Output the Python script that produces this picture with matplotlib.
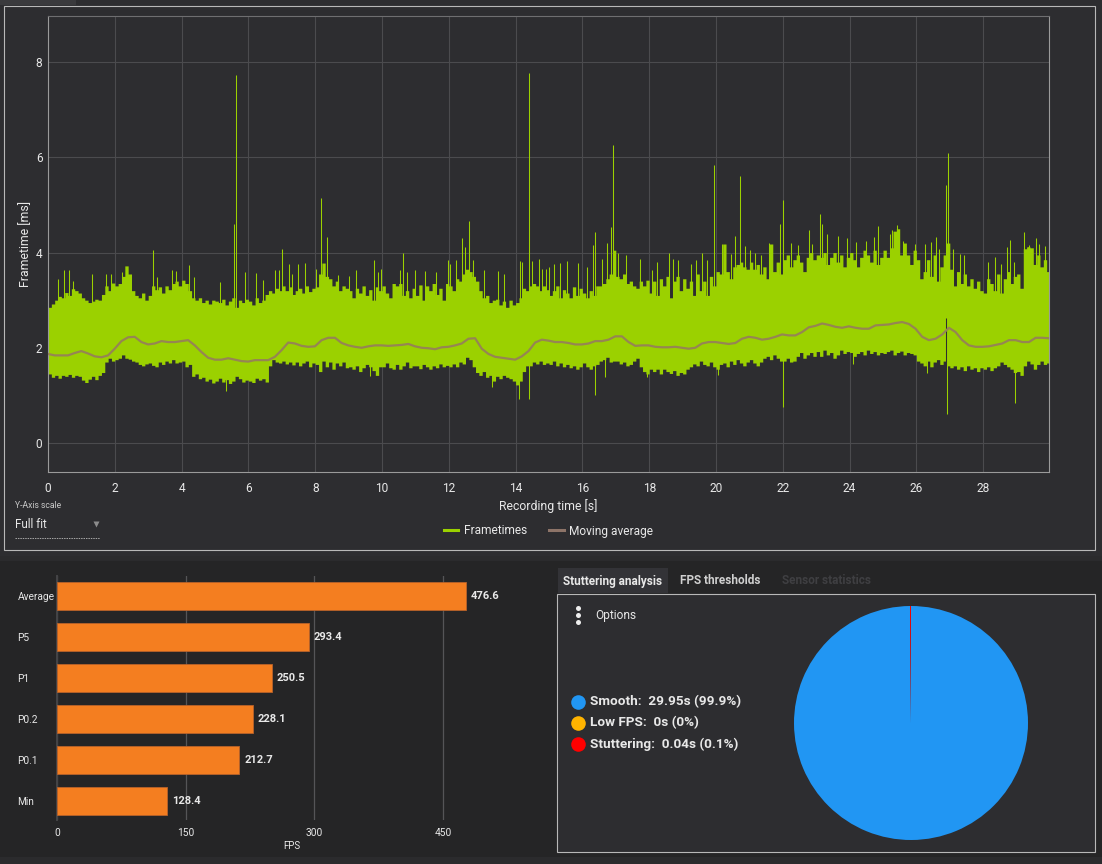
import numpy as np
import matplotlib
matplotlib.use("Agg")
import matplotlib.pyplot as plt
from matplotlib.lines import Line2D
from matplotlib.patches import Rectangle

plt.rcParams['font.family'] = ['Roboto', 'DejaVu Sans']

# frametime band, upper and lower edge, one value per 0.1 s
upper_ms = [
    2.85, 2.92, 3.0, 3.08, 3.05, 3.16, 3.1, 3.24, 3.2, 3.15,
    3.05, 3.0, 2.95, 2.98, 3.02, 3.0, 3.12, 3.3, 3.2, 3.36,
    3.3, 3.35, 3.5, 3.72, 3.55, 3.2, 3.1, 3.05, 3.15, 3.0,
    3.1, 3.3, 3.22, 3.28, 3.15, 3.3, 3.22, 3.35, 3.4, 3.3,
    3.42, 3.35, 3.2, 3.05, 3.0, 3.05, 2.95, 3.0, 2.92, 3.0,
    2.98, 2.95, 3.02, 2.9, 2.98, 3.05, 2.85, 3.0, 2.95, 3.02,
    2.98, 2.9, 3.05, 2.95, 3.0, 3.12, 3.2, 3.15, 3.25, 3.2,
    3.3, 3.2, 3.28, 3.12, 3.2, 3.25, 3.15, 3.3, 3.18, 3.25,
    3.28, 3.55, 3.78, 3.5, 3.45, 3.3, 3.4, 3.2, 3.3, 3.25,
    3.2, 3.05, 3.25, 3.15, 3.3, 3.1, 3.22, 3.0, 3.28, 3.2,
    3.3, 3.15, 3.05, 3.35, 3.3, 3.35, 3.1, 3.2, 3.05, 3.25,
    3.1, 3.32, 3.0, 3.3, 3.2, 3.35, 3.12, 3.25, 3.0, 3.35,
    3.3, 3.2, 3.45, 3.4, 3.55, 3.65, 3.6, 3.5, 3.4, 3.2,
    3.05, 3.1, 2.95, 3.0, 3.02, 2.9, 2.98, 2.85, 3.0, 2.9,
    2.95, 3.05, 3.25, 3.2, 3.3, 3.35, 3.3, 3.2, 3.3, 3.22,
    3.1, 3.2, 3.3, 3.05, 3.22, 3.15, 3.05, 3.28, 3.1, 3.25,
    3.15, 3.05, 3.2, 3.1, 3.3, 3.3, 3.35, 3.45, 3.55, 4.05,
    3.5, 3.45, 3.55, 3.35, 3.4, 3.3, 3.25, 3.4, 3.3, 3.42,
    3.15, 3.4, 3.1, 3.45, 3.3, 3.5, 3.05, 3.4, 3.5, 3.2,
    3.45, 3.25, 3.4, 3.1, 3.55, 3.2, 3.4, 3.1, 3.5, 3.3,
    3.6, 3.55, 4.18, 3.6, 3.45, 3.7, 3.75, 3.8, 3.7, 3.65,
    3.8, 3.65, 3.75, 3.55, 3.7, 3.45, 4.18, 3.6, 3.8, 3.55,
    3.85, 3.95, 3.7, 3.85, 3.95, 3.8, 3.6, 3.9, 4.0, 3.85,
    3.95, 3.9, 4.0, 3.75, 3.9, 4.0, 3.8, 3.95, 3.7, 3.9,
    4.0, 3.85, 3.7, 3.9, 4.05, 3.95, 3.8, 4.05, 3.75, 3.9,
    4.05, 3.9, 4.1, 4.45, 4.5, 3.95, 4.2, 3.95, 3.75, 4.05,
    3.85, 3.45, 3.6, 3.85, 3.5, 3.95, 3.4, 3.7, 3.95, 4.2,
    3.65, 3.3, 3.6, 3.35, 3.55, 3.3, 3.45, 3.25, 3.4, 3.2,
    3.15, 3.45, 3.35, 3.2, 3.55, 3.15, 3.45, 3.6, 3.35, 3.5,
    3.55, 3.25, 4.08, 4.12, 4.1, 3.75, 3.95, 3.7, 3.85, 3.6,
]
lower_ms = [
    1.45, 1.38, 1.42, 1.36, 1.42, 1.4, 1.44, 1.38, 1.42, 1.4,
    1.32, 1.27, 1.34, 1.4, 1.33, 1.42, 1.48, 1.7, 1.78, 1.72,
    1.75, 1.78, 1.85, 1.78, 1.76, 1.72, 1.7, 1.65, 1.62, 1.66,
    1.68, 1.63, 1.6, 1.7, 1.65, 1.72, 1.68, 1.75, 1.68, 1.7,
    1.72, 1.6, 1.65, 1.4, 1.45, 1.35, 1.38, 1.3, 1.34, 1.26,
    1.3, 1.36, 1.28, 1.33, 1.25, 1.3, 1.4, 1.35, 1.28, 1.32,
    1.3, 1.27, 1.36, 1.32, 1.35, 1.28, 1.62, 1.75, 1.7, 1.68,
    1.72, 1.66, 1.7, 1.64, 1.7, 1.62, 1.68, 1.72, 1.6, 1.68,
    1.65, 1.5, 1.72, 1.6, 1.7, 1.55, 1.68, 1.62, 1.7, 1.58,
    1.6, 1.55, 1.62, 1.5, 1.58, 1.65, 1.6, 1.52, 1.42, 1.6,
    1.6, 1.68, 1.58, 1.55, 1.65, 1.55, 1.62, 1.7, 1.58, 1.62,
    1.62, 1.56, 1.65, 1.6, 1.55, 1.62, 1.58, 1.66, 1.6, 1.63,
    1.6, 1.66, 1.6, 1.7, 1.66, 1.8, 1.75, 1.6, 1.48, 1.42,
    1.5, 1.38, 1.42, 1.3, 1.4, 1.35, 1.42, 1.38, 1.35, 1.3,
    1.22, 1.3, 1.5, 1.62, 1.62, 1.7, 1.66, 1.72, 1.65, 1.68,
    1.65, 1.72, 1.62, 1.68, 1.6, 1.65, 1.58, 1.62, 1.55, 1.6,
    1.68, 1.6, 1.55, 1.62, 1.65, 1.72, 1.75, 1.8, 1.7, 1.72,
    1.72, 1.66, 1.7, 1.62, 1.65, 1.72, 1.78, 1.6, 1.5, 1.45,
    1.55, 1.5, 1.55, 1.45, 1.55, 1.5, 1.46, 1.52, 1.42, 1.48,
    1.45, 1.55, 1.6, 1.66, 1.62, 1.72, 1.65, 1.62, 1.7, 1.6,
    1.55, 1.65, 1.68, 1.6, 1.72, 1.65, 1.75, 1.68, 1.62, 1.7,
    1.75, 1.68, 1.62, 1.7, 1.78, 1.82, 1.75, 1.85, 1.78, 1.72,
    1.72, 1.78, 1.7, 1.72, 1.82, 1.9, 1.78, 1.85, 1.9, 1.82,
    1.92, 1.82, 1.95, 1.85, 1.9, 1.78, 1.85, 1.95, 1.88, 1.92,
    1.9, 1.82, 1.88, 1.92, 1.85, 1.95, 1.88, 1.92, 1.85, 1.9,
    1.88, 1.92, 1.95, 1.85, 1.9, 1.93, 1.85, 1.9, 1.88, 1.85,
    1.72, 1.68, 1.62, 1.72, 1.6, 1.7, 1.75, 1.65, 1.72, 1.62,
    1.58, 1.62, 1.55, 1.6, 1.52, 1.62, 1.55, 1.58, 1.5, 1.58,
    1.55, 1.6, 1.52, 1.58, 1.62, 1.7, 1.65, 1.6, 1.55, 1.48,
    1.5, 1.42, 1.62, 1.72, 1.66, 1.55, 1.65, 1.72, 1.65, 1.68,
]

# single frames that stick out above the band
spike_up_t = [
    0.47, 0.63, 0.3, 0.75, 1.32, 1.73, 1.9, 2.23, 3.15, 3.25, 3.7, 3.83, 4.23, 4.37, 5.15, 5.57, 5.63,
    5.9, 6.23, 6.43, 6.8, 6.93, 7.02, 7.22, 7.3, 7.49, 7.69, 8.02, 8.17, 8.36, 8.67, 9.02, 9.21, 9.76,
    9.88, 9.98, 10.53, 10.63, 10.74, 10.98, 11.28, 11.62, 11.97, 12.05, 12.22, 12.39, 12.48, 12.6,
    12.73, 13.05, 13.46, 13.64, 14.12, 14.2, 14.39, 14.49, 14.69, 14.8, 14.9, 15.01, 15.15, 15.33,
    15.55, 15.88, 16.13, 16.33, 16.39, 16.6, 16.75, 16.87, 16.93, 17.07, 17.3, 17.72, 18.09, 18.22,
    18.6, 18.72, 18.85, 19.24, 19.39, 19.58, 19.73, 19.94, 20.19, 20.46, 20.58, 20.72, 20.87, 21.03,
    21.17, 21.35, 21.6, 21.92, 22.0, 22.25, 22.45, 22.77, 22.87, 23.1, 23.16, 23.33, 23.66, 23.91,
    24.18, 24.49, 24.74, 24.84, 25.2, 25.28, 25.42, 25.6, 25.95, 26.25, 26.45, 26.6, 26.67, 26.9,
    26.94, 27.09, 27.31, 27.42, 28.14, 28.34, 28.54, 28.71, 28.79, 28.91, 29.21, 29.33, 29.38, 29.58,
    29.66, 29.86,
]
spike_up_ms = [
    3.63, 3.64, 3.45, 3.4, 3.55, 3.56, 3.56, 3.6, 4.05, 3.49, 3.63, 3.62, 3.73, 3.49, 3.38, 4.6, 7.72,
    3.6, 3.57, 3.42, 3.64, 3.63, 4.07, 3.77, 3.56, 3.77, 3.78, 3.66, 5.15, 4.32, 3.52, 3.5, 3.63, 3.84,
    3.6, 3.66, 3.63, 4.0, 3.6, 3.64, 3.62, 3.6, 3.85, 3.77, 3.84, 4.3, 4.12, 4.66,
    3.84, 3.63, 3.62, 3.56, 3.83, 3.8, 7.77, 3.83, 3.87, 3.66, 3.66, 3.7, 3.77, 3.78,
    3.83, 3.78, 3.7, 4.15, 4.43, 3.87, 4.2, 4.54, 6.25, 4.0, 3.95, 3.87, 3.63, 3.8,
    4.0, 3.87, 3.84, 3.77, 3.84, 4.0, 3.84, 5.83, 4.19, 3.98, 4.34, 5.6, 4.13, 4.05,
    4.0, 3.95, 4.2, 4.6, 5.1, 4.2, 4.15, 4.47, 4.18, 4.8, 4.6, 4.39, 4.35, 4.3,
    4.22, 4.25, 4.33, 4.55, 4.39, 4.47, 4.57, 4.25, 4.19, 4.18, 4.22, 4.33, 4.08, 5.42,
    6.1, 4.08, 3.98, 3.95, 3.8, 3.91, 3.77, 4.12, 4.27, 3.8, 4.43, 4.12, 4.15, 4.3,
    4.19, 4.13,
]
# and the ones that drop below it
spike_down_t = [5.34, 9.64, 13.29, 14.09, 14.39, 16.39, 16.69, 17.92, 20.06, 22.0, 24.11, 26.32, 26.93, 28.95]
spike_down_ms = [1.09, 1.41, 1.18, 0.92, 0.92, 1.0, 1.39, 1.39, 1.42, 0.75, 1.65, 1.46, 0.6, 0.83]

# one value every 0.2 s
moving_avg_ms = [
    1.87, 1.84, 1.84, 1.84, 1.89, 1.93, 1.88, 1.82, 1.80, 1.84,
    1.98, 2.14, 2.22, 2.23, 2.12, 2.07, 2.09, 2.14, 2.12, 2.12,
    2.14, 2.16, 2.05, 1.91, 1.79, 1.75, 1.75, 1.78, 1.75, 1.72,
    1.71, 1.74, 1.74, 1.74, 1.81, 1.95, 2.11, 2.09, 2.04, 2.02,
    2.03, 2.16, 2.21, 2.21, 2.10, 2.05, 2.02, 2.0, 2.03, 2.05,
    2.05, 2.04, 2.05, 2.06, 2.08, 2.03, 2.0, 1.99, 1.97, 2.01,
    2.02, 2.05, 2.09, 2.19, 2.2, 1.98, 1.87, 1.81, 1.79, 1.77,
    1.75, 1.82, 1.93, 2.11, 2.17, 2.15, 2.12, 2.12, 2.10, 2.07,
    2.07, 2.09, 2.14, 2.14, 2.17, 2.24, 2.24, 2.12, 2.04, 2.05,
    2.05, 2.02, 2.01, 2.01, 2.02, 2.0, 1.98, 2.0, 2.09, 2.12,
    2.12, 2.10, 2.08, 2.10, 2.19, 2.23, 2.21, 2.17, 2.19, 2.23,
    2.28, 2.26, 2.26, 2.33, 2.43, 2.46, 2.51, 2.48, 2.44, 2.42,
    2.45, 2.42, 2.40, 2.40, 2.47, 2.48, 2.49, 2.52, 2.54, 2.50,
    2.40, 2.23, 2.16, 2.19, 2.28, 2.42, 2.33, 2.16, 2.05, 2.02,
    2.02, 2.03, 2.06, 2.09, 2.16, 2.16, 2.12, 2.12, 2.21, 2.21, 2.20,
]

bar_names = ['Average', 'P5', 'P1', 'P0.2', 'P0.1', 'Min']
bar_fps = [476.6, 293.4, 250.5, 228.1, 212.7, 128.4]

pie_seconds = [29.95, 0, 0.04]
pie_percent = ['99.9', '0', '0.1']
pie_names = ['Smooth', 'Low FPS', 'Stuttering']
pie_colors = ['#2196f3', '#ffb300', '#ff0000']

W, H = 1102, 864
PANEL = '#2d2d30'
DARK = '#252526'
GREEN = '#9bd100'
AVG = '#968553'
TXT = '#e8e8e8'


def box(left, top, right, bottom):
    # pixel box of the reference -> figure fractions
    return [left / W, 1 - bottom / H, (right - left) / W, (bottom - top) / H]


fig = plt.figure(figsize=(W / 100, H / 100), dpi=100, facecolor=DARK)

# backdrop in pixel coordinates: panels, frames, small controls
bg = fig.add_axes([0, 0, 1, 1])
bg.set_xlim(0, W)
bg.set_ylim(H, 0)
bg.axis('off')
bg.add_patch(Rectangle((0, 0), W, 556, fc=PANEL, ec='none'))
bg.add_patch(Rectangle((0, 0), 76, 5, fc='#3a3a3d', ec='none'))
bg.add_patch(Rectangle((3.5, 5.5), 1091, 544.5, fc=PANEL, ec='#b8b8b8', lw=0.8))
bg.add_patch(Rectangle((0, 556), W, 5, fc='#2b2b2d', ec='none'))
bg.add_patch(Rectangle((0, 857), W, 7, fc='#2b2b2d', ec='none'))
bg.add_patch(Rectangle((558, 568), 110, 25, fc='#333337', ec='none'))
bg.add_patch(Rectangle((556.5, 593.5), 538, 258, fc=PANEL, ec='#b8b8b8', lw=0.8))

bg.text(15, 506, 'Y-Axis scale', color='#c8c8c8', fontsize=6.2, va='center')
bg.text(15, 524, 'Full fit', color=TXT, fontsize=8.4, va='center')
bg.plot([96], [524], marker='v', ms=5, color='#8c8c8c', mec='none')
bg.plot([15, 100], [537.5, 537.5], color='#a8a8a8', lw=0.7, ls=(0, (1.5, 1)))

bg.text(613, 581, 'Stuttering analysis', color=TXT, fontsize=8.5, fontweight='bold', ha='center', va='center')
bg.text(720.5, 581, 'FPS thresholds', color='#d0d0d0', fontsize=8.5, fontweight='bold', ha='center', va='center')
bg.text(826, 581, 'Sensor statistics', color='#3f3f42', fontsize=8.5, fontweight='bold', ha='center', va='center')
bg.plot([578, 578, 578], [608, 615, 622], 'o', ms=3.6, color='#eeeeee', mec='none')
bg.text(595, 615, 'Options', color=TXT, fontsize=8.6, va='center')

# pie legend
for i in range(3):
    y = 702 + 21 * i
    bg.plot([578], [y], 'o', ms=10.5, color=pie_colors[i], mec='none')
    sec = ('%g' % pie_seconds[i])
    bg.text(590, y, '%s:  %ss (%s%%)' % (pie_names[i], sec, pie_percent[i]),
            color=TXT, fontsize=9.7, fontweight='bold', va='center')

# frametime chart
ax = fig.add_axes(box(48, 16, 1049, 472))
ax.set_facecolor(PANEL)
edges = np.arange(len(upper_ms) + 1) * 0.1
ax.fill_between(edges, lower_ms + lower_ms[-1:], upper_ms + upper_ms[-1:], step='post',
                color=GREEN, lw=0, zorder=2)
ax.vlines(spike_up_t, 2.5, spike_up_ms, color=GREEN, lw=0.75, zorder=2)
ax.vlines(spike_down_t, spike_down_ms, 2.0, color=GREEN, lw=0.75, zorder=2)
ax.vlines([26.9], 1.6, 2.62, color=PANEL, lw=0.75, zorder=3)
avg_t = np.arange(len(moving_avg_ms)) * 0.1998
ax.plot(avg_t, moving_avg_ms, color=AVG, lw=1.6, zorder=4)
ax.set_xlim(0, 29.97)
ax.set_ylim(-0.61, 8.97)
ax.set_xticks(np.arange(0, 29, 2))
ax.set_yticks([0, 2, 4, 6, 8])
ax.grid(True, color='#4b4b4e', lw=0.8)
ax.set_axisbelow(True)
ax.tick_params(length=0, colors=TXT, labelsize=8.6, pad=7)
ax.tick_params(axis='y', pad=4)
for s in ax.spines.values():
    s.set_color('#6e6e70')
    s.set_linewidth(0.8)
ax.spines['left'].set_color('#9a9a9a')
ax.spines['bottom'].set_color('#9a9a9a')
ax.spines['right'].set_color('#9a9a9a')
ax.set_xlabel('Recording time [s]', color=TXT, fontsize=8.8, labelpad=3)
ax.set_ylabel('Frametime [ms]', color=TXT, fontsize=8.8, labelpad=3)
handles = [Line2D([], [], color=GREEN, lw=2.2), Line2D([], [], color='#8d7468', lw=2.2)]
fig.legend(handles, ['Frametimes', 'Moving average'], ncols=2, frameon=False,
           loc='center', bbox_to_anchor=(548.5 / W, 1 - 531 / H), labelcolor=TXT,
           prop={'size': 8.6}, handlelength=1.25, handletextpad=0.45, columnspacing=1.85)

# FPS bars
ax2 = fig.add_axes(box(57, 576, 510, 820))
ax2.patch.set_alpha(0)
ax2.barh(bar_names, bar_fps, height=0.69, color='#f47e20', edgecolor='#b9622a', lw=0.6, zorder=3)
for i, v in enumerate(bar_fps):
    ax2.text(v + 5.5, i, '%.1f' % v, color=TXT, fontsize=8, fontweight='bold', va='center', zorder=4)
ax2.set_xlim(0, 528)
ax2.set_ylim(5.47, -0.49)
ax2.set_xticks([0, 150, 300, 450])
ax2.grid(True, axis='x', color='#555557', lw=0.9)
ax2.set_axisbelow(True)
ax2.tick_params(length=0, colors=TXT, labelsize=7.3)
ax2.tick_params(axis='y', pad=5)
ax2.tick_params(axis='x', pad=6)
for lbl in ax2.get_yticklabels():
    lbl.set_ha('left')
    lbl.set_x(-0.072)
for k, s in ax2.spines.items():
    s.set_visible(k == 'left')
ax2.spines['left'].set_color('#444446')
ax2.spines['left'].set_linewidth(1.4)
ax2.set_xlabel('FPS', color=TXT, fontsize=7, labelpad=-3)
ax2.xaxis.set_label_coords(235 / 453, -0.085)

# stuttering pie
ax3 = fig.add_axes(box(794, 606, 1028, 840))
ax3.pie(pie_seconds, colors=pie_colors, startangle=90, counterclock=False, radius=1.0)
ax3.set_xlim(-1, 1)
ax3.set_ylim(-1, 1)

fig.savefig('out.png', dpi=100, facecolor=DARK)
